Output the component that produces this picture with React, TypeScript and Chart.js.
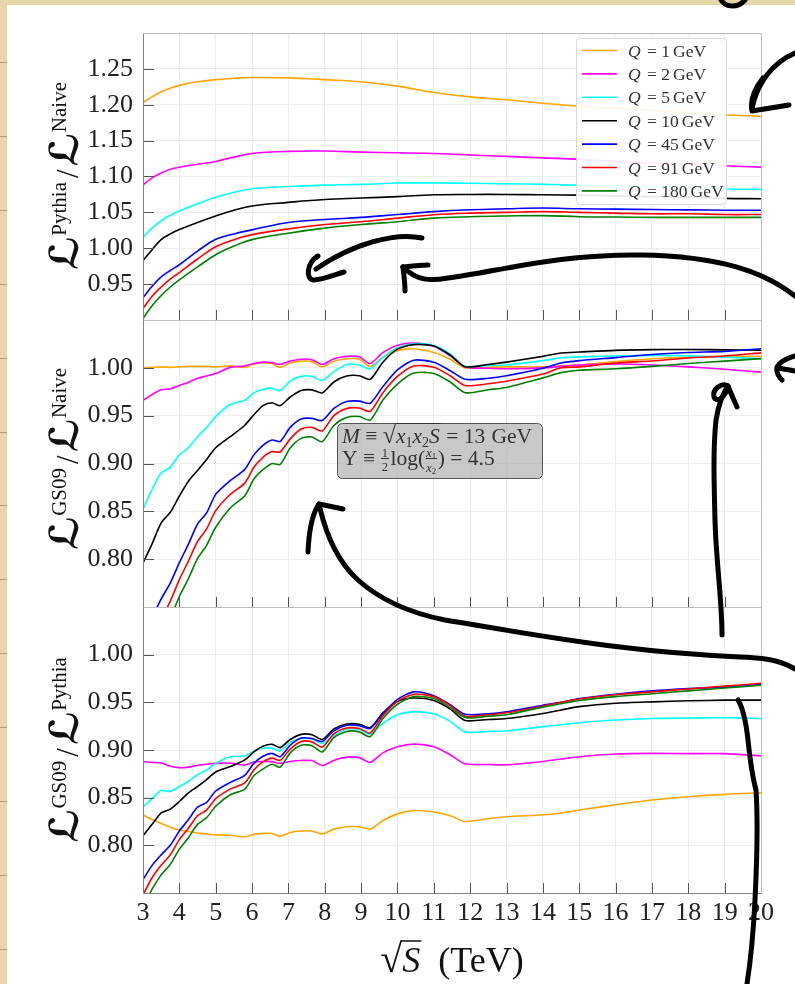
import React, { useEffect, useRef } from 'react';
import { Chart, registerables } from 'chart.js';

Chart.register(...registerables);

const SERIF = "'Liberation Serif', 'DejaVu Serif', serif";
const CAL = "'DejaVu Serif', 'DejaVu Sans', serif";

// ---------- data ----------
const Q_LABELS = ['1', '2', '5', '10', '45', '91', '180'];
const COLORS = ['#ffa500', '#ff00ff', '#00ffff', '#000000', '#0000ff', '#ff0000', '#008000'];

const X_TICKS = [3, 4, 5, 6, 7, 8, 9, 10, 11, 12, 13, 14, 15, 16, 17, 18, 19, 20];
const Y1_TICKS = [0.95, 1.0, 1.05, 1.1, 1.15, 1.2, 1.25];
const Y2_TICKS = [0.8, 0.85, 0.9, 0.95, 1.0];
const Y3_TICKS = [0.8, 0.85, 0.9, 0.95, 1.0];

// Panel 1: Pythia / Naive
const X_P1 = [3, 3.25, 3.5, 3.75, 4, 4.5, 5, 5.5, 6, 7, 8, 9, 10, 11, 12, 13, 14, 15, 16, 17, 18, 19, 20];
const P1_Q1 = [1.203, 1.211, 1.218, 1.223, 1.227, 1.232, 1.235, 1.237, 1.238, 1.2375, 1.235, 1.232, 1.226, 1.217, 1.211, 1.207, 1.202, 1.198, 1.195, 1.192, 1.189, 1.186, 1.184];
const P1_Q2 = [1.088, 1.098, 1.105, 1.11, 1.113, 1.117, 1.121, 1.127, 1.132, 1.135, 1.1355, 1.134, 1.133, 1.132, 1.13, 1.128, 1.126, 1.124, 1.121, 1.119, 1.117, 1.115, 1.113];
const P1_Q5 = [1.015, 1.028, 1.038, 1.046, 1.052, 1.062, 1.071, 1.078, 1.083, 1.086, 1.088, 1.089, 1.091, 1.091, 1.0905, 1.09, 1.089, 1.088, 1.087, 1.086, 1.085, 1.083, 1.082];
const P1_Q10 = [0.983, 0.998, 1.012, 1.02, 1.026, 1.036, 1.045, 1.053, 1.059, 1.064, 1.068, 1.07, 1.072, 1.0745, 1.075, 1.075, 1.0745, 1.074, 1.073, 1.072, 1.071, 1.0695, 1.069];
const P1_Q45 = [0.931, 0.947, 0.96, 0.969, 0.977, 0.996, 1.0125, 1.02, 1.0256, 1.036, 1.04, 1.043, 1.047, 1.051, 1.0536, 1.055, 1.056, 1.055, 1.0545, 1.054, 1.0535, 1.053, 1.053];
const P1_Q91 = [0.916, 0.933, 0.946, 0.957, 0.966, 0.985, 1.002, 1.012, 1.019, 1.027, 1.033, 1.037, 1.042, 1.0467, 1.049, 1.05, 1.051, 1.05, 1.049, 1.048, 1.048, 1.047, 1.047];
const P1_Q180 = [0.902, 0.92, 0.934, 0.946, 0.956, 0.974, 0.991, 1.003, 1.012, 1.021, 1.028, 1.033, 1.037, 1.042, 1.044, 1.045, 1.0455, 1.044, 1.0435, 1.043, 1.043, 1.043, 1.043];

// Panels 2 and 3 share a finer grid
const X_FINE = [3.0, 3.25, 3.5, 3.75, 4.0, 4.25, 4.5, 4.75, 5.0, 5.4, 5.8, 6.05, 6.3, 6.55, 6.77, 7.05, 7.35, 7.65, 7.93, 8.25, 8.6, 8.95, 9.25, 9.6, 10.0, 10.45, 11.0, 11.45, 11.86, 12.5, 13.0, 14.0, 14.5, 15.0, 16.0, 17.0, 18.0, 19.0, 20.0];

// Panel 2: GS09 / Naive
const P2_Q1 = [1.0, 1.0005, 1.001, 1.0005, 1.001, 1.0015, 1.0015, 1.0015, 1.001, 1.002, 1.0005, 1.004, 1.005, 1.0045, 1.0005, 1.005, 1.007, 1.0065, 1.001, 1.007, 1.0095, 1.009, 1.0015, 1.011, 1.018, 1.02, 1.016, 1.009, 1.0, 1.0005, 1.001, 1.001, 1.002, 1.003, 1.0065, 1.0095, 1.011, 1.012, 1.012];
const P2_Q2 = [0.966, 0.972, 0.977, 0.978, 0.9815, 0.985, 0.989, 0.9915, 0.994, 1.0005, 1.002, 1.0045, 1.006, 1.0055, 1.0035, 1.007, 1.009, 1.0085, 1.0035, 1.0095, 1.012, 1.0115, 1.0045, 1.016, 1.0235, 1.026, 1.0225, 1.0125, 1.001, 0.9995, 0.999, 1.0, 1.0015, 1.003, 1.004, 1.003, 1.001, 0.9985, 0.9955];
const P2_Q5 = [0.852, 0.873, 0.89, 0.896, 0.909, 0.9165, 0.928, 0.9375, 0.949, 0.9616, 0.966, 0.9738, 0.9775, 0.9787, 0.976, 0.9862, 0.9911, 0.9911, 0.9867, 0.996, 1.0035, 1.003, 0.999, 1.011, 1.021, 1.0252, 1.0234, 1.0146, 1.0015, 1.0025, 1.003, 1.0075, 1.0105, 1.0115, 1.0124, 1.013, 1.0125, 1.0112, 1.0095];
const P2_Q10 = [0.796, 0.816, 0.838, 0.849, 0.866, 0.8815, 0.8927, 0.9042, 0.9165, 0.928, 0.94, 0.951, 0.9605, 0.9635, 0.9605, 0.9695, 0.9763, 0.977, 0.9738, 0.9852, 0.9914, 0.9918, 0.988, 1.0059, 1.0195, 1.0243, 1.0229, 1.0134, 1.0012, 1.0035, 1.006, 1.012, 1.0155, 1.0165, 1.0183, 1.019, 1.0192, 1.0188, 1.0185];
const P2_Q45 = [0.711, 0.7377, 0.7584, 0.775, 0.7963, 0.8158, 0.8366, 0.8484, 0.8677, 0.882, 0.8939, 0.909, 0.919, 0.9245, 0.923, 0.9378, 0.9466, 0.9472, 0.945, 0.9575, 0.9647, 0.9652, 0.963, 0.9804, 0.9978, 1.008, 1.0058, 0.997, 0.988, 0.9891, 0.9917, 0.9995, 1.005, 1.0075, 1.0107, 1.014, 1.016, 1.0172, 1.02];
const P2_Q91 = [0.685, 0.7147, 0.737, 0.756, 0.7786, 0.798, 0.8185, 0.8316, 0.8507, 0.8676, 0.8795, 0.896, 0.9065, 0.9125, 0.912, 0.9257, 0.936, 0.9378, 0.934, 0.95, 0.9575, 0.958, 0.9545, 0.974, 0.991, 1.002, 1.0006, 0.9917, 0.9815, 0.9834, 0.986, 0.9935, 1.0, 1.001, 1.005, 1.0071, 1.0103, 1.0124, 1.0156];
const P2_Q180 = [0.663, 0.6937, 0.7182, 0.738, 0.761, 0.7797, 0.8006, 0.8145, 0.8334, 0.8535, 0.8662, 0.8838, 0.8935, 0.9, 0.899, 0.9161, 0.9263, 0.9277, 0.9228, 0.9397, 0.948, 0.9491, 0.9453, 0.9663, 0.983, 0.9945, 0.9941, 0.9852, 0.974, 0.9771, 0.9795, 0.9895, 0.995, 0.9975, 0.999, 1.0015, 1.0045, 1.007, 1.0096];

// Panel 3: GS09 / Pythia
const P3_Q1 = [0.832, 0.827, 0.823, 0.819, 0.816, 0.8145, 0.813, 0.812, 0.811, 0.8105, 0.809, 0.8115, 0.8125, 0.8125, 0.8095, 0.8135, 0.815, 0.815, 0.812, 0.817, 0.8195, 0.8195, 0.817, 0.826, 0.833, 0.8365, 0.835, 0.831, 0.825, 0.828, 0.83, 0.832, 0.834, 0.837, 0.8425, 0.8475, 0.851, 0.8535, 0.855];
const P3_Q2 = [0.888, 0.887, 0.8865, 0.883, 0.8815, 0.882, 0.884, 0.885, 0.886, 0.8862, 0.8843, 0.8875, 0.888, 0.8878, 0.886, 0.888, 0.889, 0.889, 0.8837, 0.889, 0.8925, 0.892, 0.887, 0.897, 0.9035, 0.9062, 0.9035, 0.895, 0.8855, 0.8848, 0.8845, 0.888, 0.8905, 0.893, 0.8958, 0.8965, 0.8962, 0.8962, 0.894];
const P3_Q5 = [0.84, 0.849, 0.8575, 0.8565, 0.8617, 0.867, 0.874, 0.879, 0.886, 0.893, 0.8937, 0.899, 0.9018, 0.902, 0.899, 0.908, 0.912, 0.9115, 0.907, 0.915, 0.922, 0.9215, 0.917, 0.928, 0.937, 0.94, 0.938, 0.93, 0.919, 0.9195, 0.92, 0.9245, 0.9265, 0.9286, 0.9314, 0.933, 0.9335, 0.934, 0.933];
const P3_Q10 = [0.81, 0.822, 0.834, 0.838, 0.846, 0.855, 0.8617, 0.869, 0.877, 0.8826, 0.8896, 0.898, 0.904, 0.906, 0.9025, 0.911, 0.9164, 0.916, 0.9111, 0.922, 0.9272, 0.927, 0.9235, 0.939, 0.951, 0.9545, 0.952, 0.943, 0.931, 0.932, 0.933, 0.9383, 0.942, 0.9455, 0.949, 0.9505, 0.9516, 0.9523, 0.9523];
const P3_Q45 = [0.764, 0.779, 0.79, 0.8, 0.815, 0.827, 0.84, 0.845, 0.857, 0.866, 0.8735, 0.886, 0.8935, 0.8965, 0.893, 0.905, 0.9125, 0.912, 0.909, 0.92, 0.926, 0.9255, 0.9225, 0.938, 0.953, 0.961, 0.957, 0.9475, 0.9375, 0.938, 0.94, 0.947, 0.95, 0.954, 0.9585, 0.962, 0.9644, 0.966, 0.9686];
const P3_Q91 = [0.748, 0.766, 0.779, 0.79, 0.806, 0.818, 0.831, 0.837, 0.849, 0.859, 0.8655, 0.879, 0.8875, 0.8915, 0.889, 0.901, 0.909, 0.9085, 0.903, 0.917, 0.923, 0.9225, 0.918, 0.936, 0.951, 0.9585, 0.956, 0.9465, 0.9355, 0.937, 0.939, 0.946, 0.95, 0.9535, 0.958, 0.961, 0.964, 0.967, 0.97];
const P3_Q180 = [0.735, 0.754, 0.769, 0.78, 0.796, 0.808, 0.822, 0.829, 0.841, 0.853, 0.859, 0.873, 0.88, 0.885, 0.882, 0.897, 0.905, 0.9045, 0.898, 0.913, 0.9195, 0.919, 0.914, 0.933, 0.948, 0.956, 0.954, 0.9445, 0.934, 0.9355, 0.937, 0.945, 0.9485, 0.952, 0.956, 0.959, 0.962, 0.965, 0.968];

// ---------- layout ----------
const W = 795;
const H = 984;
const AREA_LEFT = 143;
const AREA_RIGHT = 761;
const GRID = '#ededed';
const BEIGE = '#e7d7a8';

type Run = { t: string; f: string; dy?: number; dx?: number };

function runsWidth(ctx: CanvasRenderingContext2D, runs: Run[]) {
  let w = 0;
  for (const r of runs) {
    ctx.font = r.f;
    w += ctx.measureText(r.t).width + (r.dx || 0);
  }
  return w;
}
function drawRuns(ctx: CanvasRenderingContext2D, runs: Run[], x: number, y: number) {
  let cx = x;
  for (const r of runs) {
    cx += r.dx || 0;
    ctx.font = r.f;
    ctx.fillText(r.t, cx, y + (r.dy || 0));
    cx += ctx.measureText(r.t).width;
  }
  return cx;
}
function put(ctx: CanvasRenderingContext2D, t: string, f: string, x: number, y: number) {
  ctx.font = f;
  ctx.fillText(t, x, y);
  return x + ctx.measureText(t).width;
}
function roundRect(ctx: CanvasRenderingContext2D, x: number, y: number, w: number, h: number, r: number) {
  ctx.beginPath();
  ctx.moveTo(x + r, y);
  ctx.arcTo(x + w, y, x + w, y + h, r);
  ctx.arcTo(x + w, y + h, x, y + h, r);
  ctx.arcTo(x, y + h, x, y, r);
  ctx.arcTo(x, y, x + w, y, r);
  ctx.closePath();
}

const framePlugin = {
  id: 'frame',
  afterDraw(chart: any) {
    const { ctx, chartArea: a, scales } = chart;
    ctx.save();
    ctx.lineWidth = 1;
    ctx.strokeStyle = '#555';
    ctx.beginPath();
    scales.x.ticks.forEach((t: any) => {
      const px = Math.round(scales.x.getPixelForValue(t.value)) + 0.5;
      ctx.moveTo(px, a.bottom);
      ctx.lineTo(px, a.bottom - 10);
    });
    scales.y.ticks.forEach((t: any) => {
      const py = Math.round(scales.y.getPixelForValue(t.value)) + 0.5;
      ctx.moveTo(a.left, py);
      ctx.lineTo(a.left + 11, py);
    });
    ctx.stroke();
    const l = Math.round(a.left) + 0.5;
    const r = Math.round(a.right) + 0.5;
    const t = Math.round(a.top) + 0.5;
    const b = Math.round(a.bottom) + 0.5;
    ctx.strokeStyle = '#bdbdbd';
    ctx.beginPath();
    ctx.moveTo(l, t);
    ctx.lineTo(r, t);
    ctx.lineTo(r, b);
    ctx.stroke();
    ctx.strokeStyle = '#808080';
    ctx.beginPath();
    ctx.moveTo(l, t);
    ctx.lineTo(l, b);
    ctx.lineTo(r, b);
    ctx.stroke();
    ctx.restore();
  },
};

function yTitlePlugin(runs: Run[], center: number) {
  return {
    id: 'ytitle',
    afterDraw(chart: any) {
      const { ctx } = chart;
      ctx.save();
      ctx.fillStyle = '#111';
      ctx.textBaseline = 'alphabetic';
      const w = runsWidth(ctx, runs);
      ctx.translate(78, center);
      ctx.rotate(-Math.PI / 2);
      drawRuns(ctx, runs, -w / 2, 0);
      ctx.restore();
    },
  };
}

const legendPlugin = {
  id: 'qlegend',
  afterDraw(chart: any) {
    const { ctx } = chart;
    ctx.save();
    roundRect(ctx, 576.5, 38.5, 150, 166, 4);
    ctx.fillStyle = 'rgba(255,255,255,0.9)';
    ctx.fill();
    ctx.strokeStyle = '#d8d8d8';
    ctx.lineWidth = 1;
    ctx.stroke();
    Q_LABELS.forEach((q, i) => {
      const y = 50.5 + i * 23.4;
      ctx.strokeStyle = COLORS[i];
      ctx.lineWidth = 1.6;
      ctx.beginPath();
      ctx.moveTo(582, y);
      ctx.lineTo(617, y);
      ctx.stroke();
      ctx.fillStyle = '#333';
      let x = put(ctx, 'Q', `italic 17.5px ${SERIF}`, 628, y + 6);
      x = put(ctx, ' = ' + q, `17.5px ${SERIF}`, x + 2, y + 6);
      put(ctx, 'GeV', `17.5px ${SERIF}`, x + 3, y + 6);
    });
    ctx.restore();
  },
};

const annotationPlugin = {
  id: 'mybox',
  afterDraw(chart: any) {
    const { ctx } = chart;
    ctx.save();
    roundRect(ctx, 337.5, 423.5, 205, 55, 5);
    ctx.fillStyle = 'rgba(170,170,170,0.65)';
    ctx.fill();
    ctx.strokeStyle = '#555';
    ctx.lineWidth = 1;
    ctx.stroke();
    ctx.fillStyle = '#333';
    ctx.strokeStyle = '#333';
    const F = `21.5px ${SERIF}`;
    const FI = `italic 21.5px ${SERIF}`;
    const FS = `14px ${SERIF}`;
    // line 1
    let y = 443;
    let x = put(ctx, 'M', FI, 342, y);
    x = put(ctx, ' \u2261 ', F, x, y);
    ctx.font = `24px ${SERIF}`;
    const sq = ctx.measureText('\u221a');
    x = put(ctx, '\u221a', `24px ${SERIF}`, x, y);
    const barStart = x - 1;
    const barY = y - (sq.actualBoundingBoxAscent || 18) + 0.5;
    x = put(ctx, 'x', FI, x, y);
    x = put(ctx, '1', FS, x, y + 4);
    x = put(ctx, 'x', FI, x, y);
    x = put(ctx, '2', FS, x, y + 4);
    x = put(ctx, 'S', FI, x, y);
    ctx.lineWidth = 1;
    ctx.beginPath();
    ctx.moveTo(barStart, barY);
    ctx.lineTo(x + 1, barY);
    ctx.stroke();
    x = put(ctx, ' = 13 ', F, x + 1, y);
    put(ctx, 'GeV', F, x + 1, y);
    // line 2
    y = 465;
    x = put(ctx, 'Y \u2261 ', F, 342, y);
    const FF = `12.5px ${SERIF}`;
    ctx.textAlign = 'center';
    put(ctx, '1', FF, x + 4.5, y - 8);
    put(ctx, '2', FF, x + 4.5, y + 6);
    ctx.textAlign = 'left';
    ctx.beginPath();
    ctx.moveTo(x + 0.5, y - 6.5);
    ctx.lineTo(x + 8.5, y - 6.5);
    ctx.stroke();
    x += 10;
    x = put(ctx, 'log(', F, x, y);
    const fx = x + 1;
    let nx = put(ctx, 'x', `italic 13px ${SERIF}`, fx, y - 8);
    put(ctx, '1', `9px ${SERIF}`, nx, y - 6);
    nx = put(ctx, 'x', `italic 13px ${SERIF}`, fx, y + 7);
    const fe = put(ctx, '2', `9px ${SERIF}`, nx, y + 9);
    ctx.beginPath();
    ctx.moveTo(fx - 0.5, y - 6.5);
    ctx.lineTo(fe + 0.5, y - 6.5);
    ctx.stroke();
    put(ctx, ') = 4.5', F, fe + 1.5, y);
    ctx.restore();
  },
};

const xTitlePlugin = {
  id: 'xtitle',
  afterDraw(chart: any) {
    const { ctx } = chart;
    ctx.save();
    ctx.fillStyle = '#111';
    ctx.strokeStyle = '#111';
    const y = 972;
    const FR = `40px ${SERIF}`;
    const FS = `italic 36px ${SERIF}`;
    const FT = `36px ${SERIF}`;
    const runs: Run[] = [
      { t: '\u221a', f: FR },
      { t: 'S', f: FS },
      { t: '  (TeV)', f: FT },
    ];
    const w = runsWidth(ctx, runs);
    let x = 452 - w / 2;
    ctx.font = FR;
    const m = ctx.measureText('\u221a');
    x = put(ctx, '\u221a', FR, x, y);
    const bs = x - 1.5;
    const by = y - (m.actualBoundingBoxAscent || 30) + 1;
    x = put(ctx, 'S', FS, x, y);
    ctx.lineWidth = 1.5;
    ctx.beginPath();
    ctx.moveTo(bs, by);
    ctx.lineTo(x + 1, by);
    ctx.stroke();
    put(ctx, '  (TeV)', FT, x, y);
    ctx.restore();
  },
};

type Panel = {
  top: number;
  bottom: number;
  xHeight: number;
  min: number;
  max: number;
  yTicks: number[];
  xs: number[];
  series: number[][];
  showX: boolean;
  tension: number;
  title: Run[];
  titleCenter: number;
  extra: any[];
};

const SUP = `21px ${SERIF}`;
const LFONT = `bold 40px ${CAL}`;
const titleRuns = (num: string, den: string): Run[] => [
  { t: '\u2112', f: LFONT },
  { t: num, f: SUP, dy: -12, dx: 0 },
  { t: '/', f: `31px ${SERIF}`, dx: 4 },
  { t: '\u2112', f: LFONT, dx: 3 },
  { t: den, f: SUP, dy: -12, dx: 0 },
];

const PANELS: Panel[] = [
  {
    top: 33, bottom: 320, xHeight: 0, min: 0.9, max: 1.3, yTicks: Y1_TICKS, xs: X_P1,
    series: [P1_Q1, P1_Q2, P1_Q5, P1_Q10, P1_Q45, P1_Q91, P1_Q180], showX: false, tension: 0.4,
    title: titleRuns('Pythia', 'Naive'), titleCenter: 176, extra: [legendPlugin],
  },
  {
    top: 320, bottom: 607, xHeight: 0, min: 0.75, max: 1.05, yTicks: Y2_TICKS, xs: X_FINE,
    series: [P2_Q1, P2_Q2, P2_Q5, P2_Q10, P2_Q45, P2_Q91, P2_Q180], showX: false, tension: 0.25,
    title: titleRuns('GS09', 'Naive'), titleCenter: 459, extra: [annotationPlugin],
  },
  {
    top: 607, bottom: 893, xHeight: 91, min: 0.75, max: 1.05, yTicks: Y3_TICKS, xs: X_FINE,
    series: [P3_Q1, P3_Q2, P3_Q5, P3_Q10, P3_Q45, P3_Q91, P3_Q180], showX: true, tension: 0.25,
    title: titleRuns('GS09', 'Pythia'), titleCenter: 750, extra: [xTitlePlugin],
  },
];

function buildChart(canvas: HTMLCanvasElement, p: Panel) {
  const datasets = p.series.map((vals, i) => ({
    label: `Q = ${Q_LABELS[i]} GeV`,
    data: p.xs.map((x, j) => ({ x, y: vals[j] })),
    borderColor: COLORS[i],
    backgroundColor: COLORS[i],
    borderWidth: 1.6,
    pointRadius: 0,
    tension: p.tension,
    fill: false,
    order: COLORS.length - 1 - i,
  }));
  const tickFont = { family: SERIF, size: 26 };
  return new Chart(canvas, {
    type: 'line',
    data: { datasets },
    options: {
      animation: false,
      responsive: false,
      maintainAspectRatio: false,
      events: [],
      layout: { padding: { top: p.top, bottom: H - p.bottom - p.xHeight, left: 0, right: W - AREA_RIGHT } },
      plugins: { legend: { display: false }, tooltip: { enabled: false }, title: { display: false } },
      scales: {
        x: {
          type: 'linear',
          min: 3,
          max: 20,
          afterBuildTicks: (s: any) => { s.ticks = X_TICKS.map((v) => ({ value: v })); },
          afterFit: (s: any) => { s.height = p.xHeight; s.paddingLeft = 0; s.paddingRight = 0; },
          grid: { color: GRID, lineWidth: 1, drawTicks: false },
          border: { display: false },
          ticks: { display: p.showX, font: tickFont, color: '#222', padding: 5, maxRotation: 0, autoSkip: false },
        },
        y: {
          type: 'linear',
          min: p.min,
          max: p.max,
          afterBuildTicks: (s: any) => { s.ticks = p.yTicks.map((v) => ({ value: v })); },
          afterFit: (s: any) => { s.width = AREA_LEFT; },
          grid: { color: GRID, lineWidth: 1, drawTicks: false },
          border: { display: false },
          ticks: { font: tickFont, color: '#222', padding: 10, callback: (v: any) => Number(v).toFixed(2) },
        },
      },
    } as any,
    plugins: [framePlugin, yTitlePlugin(p.title, p.titleCenter), ...p.extra],
  });
}

const ARROWS = [
  'M 721 0 C 726 8, 738 8, 745 0',
  'M 795 53 C 774 62, 757 82, 752 109',
  'M 763 78 C 755 88, 750 100, 752 111 L 789 105',
  'M 422 238 C 395 232, 352 244, 316 269',
  'M 318 256 C 307 262, 305 280, 314 280 C 322 280, 334 275, 344 272',
  'M 795 296 C 765 272, 720 256, 640 255 C 560 254, 500 271, 448 278 C 430 281, 417 281, 403 267',
  'M 403 267 C 404 276, 405 283, 405 291',
  'M 403 267 C 412 266, 420 265, 428 265',
  'M 795 669 C 780 660, 765 658, 740 657 C 700 655, 660 652, 620 647 C 560 640, 500 629, 445 620 C 405 612, 378 598, 358 580 C 338 562, 326 536, 319 504',
  'M 308 552 C 309 530, 312 514, 319 504 L 343 509',
  'M 722 635 C 722 600, 716 560, 715 520 C 714 480, 713 450, 716 420 C 719 402, 723 393, 728 386',
  'M 728 386 C 722 382, 712 389, 714 397 C 717 404, 726 396, 728 386 C 731 394, 734 400, 737 407',
  'M 795 356 C 788 358, 780 362, 777 367 C 776 372, 779 377, 782 380',
  'M 778 368 C 784 369, 790 370, 795 371',
  'M 738 700 C 743 708, 746 722, 748 740 C 750 760, 752 775, 756 790 C 758 820, 757 860, 755 900 C 753 940, 750 965, 747 984',
];

const MARGIN_LINES = Array.from({ length: 13 }, (_, k) => Math.round(62 + k * 73.9));

export default function App() {
  const r0 = useRef<HTMLCanvasElement>(null);
  const r1 = useRef<HTMLCanvasElement>(null);
  const r2 = useRef<HTMLCanvasElement>(null);
  const refs = [r0, r1, r2];

  useEffect(() => {
    const charts = PANELS.map((p, i) => buildChart(refs[i].current as HTMLCanvasElement, p));
    return () => charts.forEach((c) => c.destroy());
  }, []);

  return (
    <div style={{ position: 'absolute', left: 0, top: 0, width: W, height: H, background: BEIGE, overflow: 'hidden' }}>
      {MARGIN_LINES.map((y) => (
        <div key={y} style={{ position: 'absolute', left: 0, top: y, width: 7, height: 1, background: '#ad9f7c' }} />
      ))}
      <div style={{ position: 'absolute', left: 7, top: 5, width: W - 7, height: H - 5, background: '#ffffff' }} />
      {PANELS.map((_, i) => (
        <canvas
          key={i}
          ref={refs[i]}
          width={W}
          height={H}
          style={{ position: 'absolute', left: 0, top: 0, width: W, height: H }}
        />
      ))}
      <svg width={W} height={H} style={{ position: 'absolute', left: 0, top: 0 }}>
        {ARROWS.map((d, i) => (
          <path key={i} d={d} stroke="#000" strokeWidth={5} fill="none" strokeLinecap="round" strokeLinejoin="round" />
        ))}
      </svg>
    </div>
  );
}
